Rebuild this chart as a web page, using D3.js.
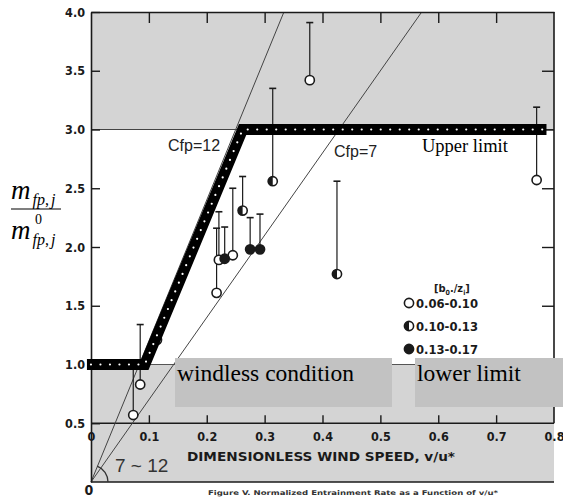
<!DOCTYPE html>
<html><head><meta charset="utf-8">
<script src="https://cdn.jsdelivr.net/npm/d3@7"></script>
<style>html,body{margin:0;padding:0;background:#fff}svg{display:block}</style>
</head><body><svg id="c" width="563" height="501"></svg>
<script>
// ---- data ----
const xTicks = [0, 0.1, 0.2, 0.3, 0.4, 0.5, 0.6, 0.7, 0.8];
const xTickLabels = ["0", "0.1", "0.2", "0.3", "0.4", "0.5", "0.6", "0.7", "0.8"];
const yTicks = [0.5, 1.0, 1.5, 2.0, 2.5, 3.0, 3.5, 4.0];
const yTickLabels = ["0.5", "1.0", "1.5", "2.0", "2.5", "3.0", "3.5", "4.0"];
const ptX   = [0.378, 0.770, 0.221, 0.217, 0.085, 0.073, 0.114, 0.245, 0.314, 0.425, 0.262, 0.231, 0.275, 0.292];
const ptY   = [3.42, 2.57, 1.89, 1.61, 0.83, 0.57, 1.21, 1.93, 2.56, 1.77, 2.31, 1.90, 1.98, 1.98];
const ptTop = [3.91, 3.19, 2.30, 2.16, 1.34, 1.02, null, 2.50, 3.35, 2.56, 2.60, 2.17, 2.25, 2.28];
const ptGroup = [0, 0, 0, 0, 0, 0, 0, 0, 1, 1, 1, 2, 2, 2];
const groupLabels = ["0.06-0.10", "0.10-0.13", "0.13-0.17"];
const cfpValues = [12, 7];
const cfpLabels = ["Cfp=12", "Cfp=7"];
const bandX = [-0.007, 0.093, 0.262, 0.787];
const bandY = [1, 1, 3, 3];
const upperLimit = 3, lowerLimit = 1, axisLevel = 0.5;

// ---- scales ----
const svg = d3.select("#c");
const x = d3.scaleLinear().domain([0, 0.8]).range([91, 554]);
const y = d3.scaleLinear().domain([0, 4]).range([482, 12]);
const ink = "#1a1a1a";
const condensed = "'DejaVu Sans Condensed', 'DejaVu Sans', sans-serif";
const serif = "'Liberation Serif', 'Times New Roman', serif";

// gray zones
svg.append("rect").attr("x", x(0)).attr("y", y(4)).attr("width", x(0.8) - x(0)).attr("height", y(upperLimit) - y(4)).attr("fill", "#d4d4d4");
svg.append("rect").attr("x", x(0)).attr("y", y(lowerLimit)).attr("width", x(0.8) - x(0)).attr("height", y(0) - y(lowerLimit)).attr("fill", "#d4d4d4");

// horizontal reference lines
[[upperLimit, "#444", 1], [lowerLimit, "#555", 1], [axisLevel, ink, 1.6], [0, ink, 1.6]].forEach(([v, c, w]) => {
  svg.append("line").attr("x1", x(0)).attr("x2", x(0.8)).attr("y1", y(v)).attr("y2", y(v)).attr("stroke", c).attr("stroke-width", w);
});

// Cfp lines
cfpValues.forEach(c => {
  svg.append("line").attr("x1", x(0)).attr("y1", y(0)).attr("x2", x(4 / c)).attr("y2", y(4))
    .attr("stroke", "#444").attr("stroke-width", 1);
});

// axes
const gl = svg.append("g").attr("transform", `translate(${x(0)},0)`)
  .call(d3.axisLeft(y).tickValues(yTicks).tickFormat((d, i) => yTickLabels[i]).tickSize(-9).tickSizeOuter(0).tickPadding(6));
const gt = svg.append("g").attr("transform", `translate(0,${y(4)})`)
  .call(d3.axisTop(x).tickValues(xTicks.slice(1, -1)).tickFormat("").tickSize(-11).tickSizeOuter(0));
const gb = svg.append("g").attr("transform", `translate(0,${y(axisLevel)})`)
  .call(d3.axisBottom(x).tickValues(xTicks).tickFormat((d, i) => xTickLabels[i]).tickSize(-8).tickSizeOuter(0).tickPadding(9));
const gr = svg.append("g").attr("transform", `translate(${x(0.8)},0)`)
  .call(d3.axisLeft(y).tickValues(yTicks.slice(1, -1)).tickFormat("").tickSize(12).tickSizeOuter(0));
gr.select(".domain").remove();
gb.select(".domain").remove();
svg.append("line").attr("x1", x(0.8)).attr("x2", x(0.8)).attr("y1", y(4)).attr("y2", y(axisLevel)).attr("stroke", ink).attr("stroke-width", 1.6);
[gl, gt, gb, gr].forEach(g => {
  g.selectAll("line").attr("stroke", ink).attr("stroke-width", 1.4);
  g.select(".domain").attr("stroke", ink).attr("stroke-width", 1.6);
  g.selectAll("text").attr("fill", ink).attr("font-family", condensed).attr("font-weight", "bold").attr("font-size", 12.5);
});
gb.selectAll(".tick").filter(d => d === 0 || d === 0.8).select("line").remove();

// x-axis title
svg.append("text").attr("x", 187).attr("y", 461).attr("font-family", condensed).attr("font-weight", "bold")
  .attr("font-size", 13).attr("fill", ink).attr("textLength", 268).attr("lengthAdjust", "spacingAndGlyphs")
  .text("DIMENSIONLESS WIND SPEED, v/u*");

// origin label
svg.append("text").attr("x", x(0) - 2).attr("y", 495).attr("text-anchor", "middle").attr("font-family", condensed)
  .attr("font-weight", "bold").attr("font-size", 14).attr("fill", ink).text("0");

// caption
svg.append("text").attr("x", 208).attr("y", 495).attr("font-family", condensed).attr("font-weight", "bold")
  .attr("font-size", 6.5).attr("fill", "#333").attr("textLength", 290).attr("lengthAdjust", "spacingAndGlyphs")
  .text("Figure V.   Normalized Entrainment Rate as a Function of v/u*");

// angle arc and 7~12
const arc = d3.arc().innerRadius(17).outerRadius(17).startAngle(Math.PI / 2 - 1.2).endAngle(Math.PI / 2);
svg.append("path").attr("d", arc()).attr("transform", `translate(${x(0)},${y(0)})`).attr("fill", "none").attr("stroke", "#333").attr("stroke-width", 1.3);
svg.append("text").attr("x", 115).attr("y", 472).attr("font-family", "'Liberation Sans', Arial, sans-serif")
  .attr("font-size", 19).attr("fill", "#333").text("7 ~ 12");

// error bars & points
const r = 4.6;
ptX.forEach((vx, i) => {
  const cx = x(vx), cy = y(ptY[i]);
  if (ptTop[i] !== null) {
    svg.append("line").attr("x1", cx).attr("x2", cx).attr("y1", cy - r).attr("y2", y(ptTop[i])).attr("stroke", ink).attr("stroke-width", 1.2);
    svg.append("line").attr("x1", cx - 3.5).attr("x2", cx + 3.5).attr("y1", y(ptTop[i])).attr("y2", y(ptTop[i])).attr("stroke", ink).attr("stroke-width", 1.6);
  }
});
function marker(g, cx, cy, grp) {
  g.append("circle").attr("cx", cx).attr("cy", cy).attr("r", r)
    .attr("fill", grp === 2 ? ink : "#fff").attr("stroke", ink).attr("stroke-width", 1.6);
  if (grp === 1) {
    g.append("path").attr("d", `M${cx},${cy - r} A${r},${r} 0 0 0 ${cx},${cy + r} Z`).attr("fill", ink);
  }
}
ptX.forEach((vx, i) => marker(svg, x(vx), y(ptY[i]), ptGroup[i]));

// legend
const lg = svg.append("g");
const lt = lg.append("text").attr("x", 434).attr("y", 292).attr("font-family", condensed).attr("font-weight", "bold")
  .attr("font-size", 11).attr("fill", ink);
lt.append("tspan").text("[b");
lt.append("tspan").attr("font-size", 7).attr("dy", 3).text("0");
lt.append("tspan").attr("dy", -3).text("./z");
lt.append("tspan").attr("font-size", 7).attr("dy", 3).text("i");
lt.append("tspan").attr("dy", -3).text("]");
groupLabels.forEach((lab, i) => {
  const cy = 303 + i * 23;
  marker(lg, 409, cy, i);
  lg.append("text").attr("x", 416).attr("y", cy + 5).attr("font-family", condensed).attr("font-weight", "bold")
    .attr("font-size", 13).attr("fill", ink).attr("textLength", 62).attr("lengthAdjust", "spacingAndGlyphs").text(lab);
});

// dotted thick band
const band = d3.line().x(d => x(d[0])).y(d => y(d[1]));
const bandPts = bandX.map((v, i) => [v, bandY[i]]);
svg.append("path").attr("d", band(bandPts)).attr("fill", "none").attr("stroke", "#000").attr("stroke-width", 11).attr("stroke-linejoin", "miter");
svg.append("path").attr("d", band(bandPts)).attr("fill", "none").attr("stroke", "#fff").attr("stroke-width", 2.2)
  .attr("stroke-linecap", "round").attr("stroke-dasharray", "0 9.5").attr("stroke-dashoffset", -4);

// Cfp labels
const cfpPos = [[168, 151], [334, 157]];
cfpLabels.forEach((t, i) => {
  svg.append("text").attr("x", cfpPos[i][0]).attr("y", cfpPos[i][1]).attr("font-family", "'Liberation Sans', Arial, sans-serif")
    .attr("font-size", 16).attr("fill", "#222").text(t);
});

// annotation boxes
svg.append("text").attr("x", 422).attr("y", 152).attr("font-family", serif)
  .attr("font-size", 18.5).attr("fill", "#000").text("Upper limit");
svg.append("rect").attr("x", 175).attr("y", 358).attr("width", 217).attr("height", 49).attr("fill", "#c2c2c2");
svg.append("rect").attr("x", 415).attr("y", 358).attr("width", 148).attr("height", 49).attr("fill", "#c2c2c2");
svg.append("text").attr("x", 177).attr("y", 381).attr("font-family", serif)
  .attr("font-size", 23.5).attr("fill", "#000").text("windless condition");
svg.append("text").attr("x", 417).attr("y", 381).attr("font-family", serif)
  .attr("font-size", 23.5).attr("fill", "#000").text("lower limit");

// y label fraction
const num = svg.append("text").attr("x", 11).attr("y", 199).attr("font-family", serif).attr("font-style", "italic").attr("font-size", 27).attr("fill", "#000");
num.append("tspan").text("m");
num.append("tspan").attr("font-size", 16).attr("dy", 6).attr("dx", 2).text("fp");
num.append("tspan").attr("font-size", 16).attr("font-style", "normal").text(",");
num.append("tspan").attr("font-size", 16).attr("dx", 2).text("j");
svg.append("line").attr("x1", 11).attr("x2", 61).attr("y1", 209).attr("y2", 209).attr("stroke", "#000").attr("stroke-width", 1.2);
const den = svg.append("text").attr("x", 11).attr("y", 239).attr("font-family", serif).attr("font-style", "italic").attr("font-size", 27).attr("fill", "#000");
den.append("tspan").text("m");
den.append("tspan").attr("font-size", 16).attr("dy", 6).attr("dx", 2).text("fp");
den.append("tspan").attr("font-size", 16).attr("font-style", "normal").text(",");
den.append("tspan").attr("font-size", 16).attr("dx", 2).text("j");
svg.append("text").attr("x", 35).attr("y", 224).attr("font-family", serif).attr("font-size", 14).attr("fill", "#000").text("0");
</script>
</body></html>
